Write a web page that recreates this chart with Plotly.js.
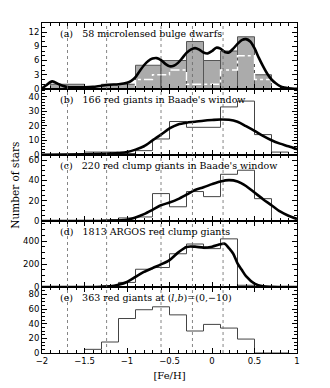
<!DOCTYPE html>
<html>
<head>
<meta charset="utf-8">
<script src="https://cdn.plot.ly/plotly-3.0.1.min.js"></script>
<style>
  html, body { margin: 0; padding: 0; background: #fff; }
  #chart { width: 330px; height: 388px; }
</style>
</head>
<body>
<div id="chart"></div>
<script>
// panel labels
const panelLabels = [
  "(a)\u00a0\u00a0 58 microlensed bulge dwarfs",
  "(b)\u00a0\u00a0 166 red giants in Baade's window",
  "(c)\u00a0\u00a0 220 red clump giants in Baade's window",
  "(d)\u00a0\u00a0 1813 ARGOS red clump giants",
  "(e)\u00a0\u00a0 363 red giants at (<i>l</i>,<i>b</i>)=(0,\u221210)"
];

// dotted reference metallicities
const dottedFeH = [-1.70, -1.24, -0.60, -0.23, 0.13];

// (a) microlensed dwarfs: gray histogram (uneven bins) + white dash-dot subset
const edgesA = [-1.9, -1.5, -1.3, -0.9, -0.6, -0.3, -0.1, 0.1, 0.3, 0.5, 0.7];
const countsA = [1, 0, 1, 5, 6, 10, 6, 8, 11, 3];
const edgesSubA = [-0.9, -0.7, -0.5, -0.3, -0.1, 0.1, 0.3, 0.5, 0.7];
const countsSubA = [2, 3, 4, 1, 1, 4, 7, 2];
const curveAx = [-2, -1.95, -1.88, -1.8, -1.7, -1.6, -1.5, -1.4, -1.3, -1.2, -1.1, -1.0, -0.95, -0.9, -0.85, -0.8, -0.75, -0.7, -0.65, -0.6, -0.55, -0.5, -0.45, -0.4, -0.35, -0.3, -0.25, -0.2, -0.15, -0.1, -0.05, 0, 0.05, 0.1, 0.15, 0.2, 0.25, 0.3, 0.35, 0.4, 0.45, 0.5, 0.55, 0.6, 0.65, 0.7, 0.75, 0.8, 0.85, 0.9, 1.0];
const curveAy = [0.1, 0.8, 1.6, 1.0, 0.4, 0.35, 0.35, 0.45, 0.7, 0.9, 1.0, 1.3, 1.7, 2.5, 3.8, 5.0, 5.9, 6.4, 6.5, 6.1, 5.3, 4.8, 4.9, 5.5, 6.5, 7.6, 8.3, 8.6, 8.3, 7.7, 7.5, 8.0, 8.7, 8.5, 7.8, 7.7, 8.5, 9.5, 10.3, 10.5, 10.0, 8.6, 6.6, 4.8, 3.2, 2.0, 1.2, 0.6, 0.3, 0.15, 0.02];

// common bins for (b)-(e)
const edges = [-1.5, -1.3, -1.1, -0.9, -0.7, -0.5, -0.3, -0.1, 0.1, 0.3, 0.5, 0.7, 0.9];
const countsB = [2, 2, 1, 3, 11, 23, 19, 19, 33, 37, 14, 2];
const countsC = [0, 1, 3, 4, 27, 14, 29, 24, 46, 50, 22, 0];
const countsD = [0, 10, 40, 155, 170, 290, 375, 335, 420, 15, 3, 0];
const countsE = [5, 15, 47, 59, 63, 52, 30, 39, 34, 19, 0, 0];

const curveX = [-2, -1.5, -1.2, -1.0, -0.9, -0.8, -0.7, -0.6, -0.5, -0.4, -0.3, -0.2, -0.1, 0, 0.1, 0.2, 0.3, 0.4, 0.5, 0.6, 0.7, 0.8, 0.9, 1.0];
const curveBy = [0.1, 0.5, 1.0, 2.1, 3.7, 6, 10, 14, 18.2, 21, 22.2, 22.8, 23.5, 24, 24.4, 24.2, 22.8, 19.8, 16.6, 13.1, 10.1, 7.8, 6, 4];
const curveCy = [0, 0, 0.3, 1.3, 3.5, 6.8, 11, 15.5, 18.2, 21.6, 26, 30.6, 33.2, 36.3, 39, 40.3, 39, 34.5, 28, 21.5, 15.5, 9.4, 5.2, 2];
const curveDx = [-2, -1.5, -1.3, -1.2, -1.1, -1.0, -0.9, -0.8, -0.7, -0.6, -0.5, -0.4, -0.3, -0.2, -0.1, 0, 0.1, 0.15, 0.2, 0.25, 0.3, 0.35, 0.4, 0.5, 0.6, 0.7, 0.8, 1.0];
const curveDy = [0, 0, 2, 6, 20, 44, 88, 132, 165, 197, 235, 300, 350, 352, 344, 352, 373, 378, 338, 290, 206, 150, 95, 30, 6, 1, 0, 0];

// y ranges / ticks per panel
const yRanges = [[0, 13.9], [0, 45.3], [0, 65], [0, 576], [0, 90]];
const yDticks = [3, 10, 20, 200, 20];
const yMinor = [1, 2, 5, 50, 5];

function steps(ed, counts) {
  const x = [ed[0]], y = [0];
  for (let i = 0; i < counts.length; i++) {
    x.push(ed[i], ed[i + 1]);
    y.push(counts[i], counts[i]);
  }
  x.push(ed[ed.length - 1]);
  y.push(0);
  return { x: x, y: y };
}

const curveLine = { color: "#000", width: 2.6, shape: "spline", smoothing: 0.8 };
const histLine = { color: "#444", width: 1 };

// gray bars of (a)
const barX = [], barW = [], barY = [];
for (let i = 0; i < countsA.length; i++) {
  if (countsA[i] === 0) continue;
  barX.push((edgesA[i] + edgesA[i + 1]) / 2);
  barW.push(edgesA[i + 1] - edgesA[i]);
  barY.push(countsA[i]);
}

const subA = steps(edgesSubA, countsSubA);
const data = [
  { type: "bar", x: barX, y: barY, width: barW, xaxis: "x", yaxis: "y",
    marker: { color: "#ababab", line: { color: "#555", width: 1 } } },
  { type: "scatter", mode: "lines", x: subA.x, y: subA.y, xaxis: "x", yaxis: "y",
    line: { color: "#fff", width: 1.4, dash: "dashdot" } },
  { type: "scatter", mode: "lines", x: curveAx, y: curveAy, xaxis: "x", yaxis: "y", line: curveLine }
];

const histSets = [countsB, countsC, countsD, countsE];
const curveSets = [[curveX, curveBy], [curveX, curveCy], [curveDx, curveDy], null];
histSets.forEach(function (c, i) {
  const k = i + 2;
  const s = steps(edges, c);
  data.push({ type: "scatter", mode: "lines", x: s.x, y: s.y, xaxis: "x" + k, yaxis: "y" + k, line: histLine });
  if (curveSets[i]) {
    data.push({ type: "scatter", mode: "lines", x: curveSets[i][0], y: curveSets[i][1],
      xaxis: "x" + k, yaxis: "y" + k, line: curveLine });
  }
});

const tickFont = { family: "DejaVu Sans, sans-serif", size: 8.5, color: "#000" };
const serif = "DejaVu Serif, serif";
const layout = {
  width: 330, height: 388,
  margin: { l: 42, r: 33, t: 23, b: 35 },
  paper_bgcolor: "#fff", plot_bgcolor: "#fff",
  showlegend: false,
  bargap: 0,
  font: tickFont,
  shapes: [], annotations: []
};

for (let k = 1; k <= 5; k++) {
  const sfx = k === 1 ? "" : String(k);
  const top = 1 - (k - 1) * 0.2, bot = 1 - k * 0.2;
  layout["xaxis" + sfx] = {
    range: [-2, 1], anchor: "y" + sfx, domain: [0, 1],
    showline: true, linecolor: "#000", linewidth: 1, mirror: "ticks",
    ticks: "inside", ticklen: 5, tickcolor: "#000", dtick: 0.5, tick0: -2,
    minor: { dtick: 0.1, ticks: "inside", ticklen: 3, tickcolor: "#000" },
    showgrid: false, zeroline: false,
    showticklabels: k === 5, tickfont: tickFont,
    title: k === 5 ? { text: "[Fe/H]", font: { family: serif, size: 10, color: "#000" }, standoff: 6 } : { text: "" }
  };
  layout["yaxis" + sfx] = {
    range: yRanges[k - 1], anchor: "x" + sfx, domain: [bot, top],
    showline: true, linecolor: "#000", linewidth: 1, mirror: "ticks",
    ticks: "inside", ticklen: 5, tickcolor: "#000", dtick: yDticks[k - 1], tick0: 0,
    minor: { dtick: yMinor[k - 1], ticks: "inside", ticklen: 3, tickcolor: "#000" },
    showgrid: false, zeroline: false, tickfont: tickFont
  };
  layout.annotations.push({
    text: panelLabels[k - 1], xref: "x" + sfx + " domain", yref: "y" + sfx + " domain",
    x: 0.063, y: 0.835, xanchor: "left", yanchor: "middle", showarrow: false,
    font: { family: serif, size: 9.5, color: "#000" }
  });
}

dottedFeH.forEach(function (v) {
  layout.shapes.push({
    type: "line", xref: "x5", yref: "paper", x0: v, x1: v, y0: 0, y1: 1,
    line: { color: "#666", width: 0.8, dash: "dot" }, layer: "above"
  });
});

layout.annotations.push({
  text: "Number of stars", xref: "paper", yref: "paper", x: -0.106, y: 0.51,
  xanchor: "center", yanchor: "middle", textangle: -90, showarrow: false,
  font: { family: serif, size: 10.5, color: "#000" }
});

Plotly.newPlot("chart", data, layout, { staticPlot: true });
</script>
</body>
</html>
